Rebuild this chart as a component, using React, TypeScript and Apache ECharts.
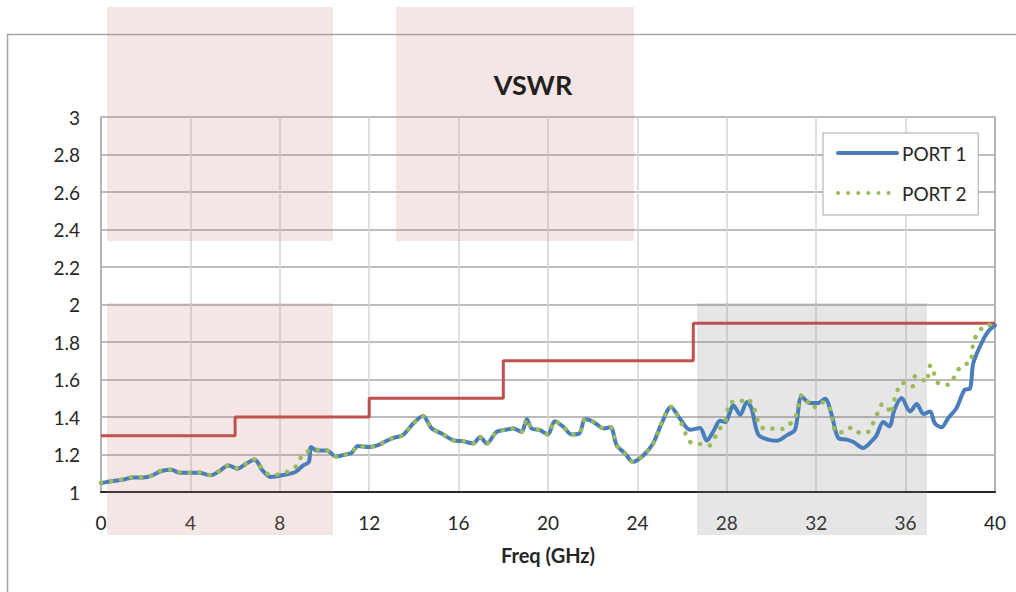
import React, { useEffect, useRef } from "react";
import * as echarts from "echarts";

// Frequency (GHz) / VSWR samples
const port1Freq = [0, 0.55, 1.0, 1.45, 1.9, 2.3, 2.7, 3.16, 3.5, 4.0, 4.4, 4.9, 5.3, 5.7, 6.1, 6.5, 6.86, 7.0, 7.2, 7.6, 8.1, 8.7, 9.05, 9.3, 9.4, 9.65, 10.1, 10.5, 10.8, 11.2, 11.5, 12.0,
  12.4, 12.7, 13.08, 13.5, 13.97, 14.4, 14.8, 15.24, 15.76, 16.2, 16.66, 16.96, 17.26, 17.7, 18.15, 18.45, 18.82, 19.05, 19.27, 19.64, 20.0, 20.3, 20.68, 21.05, 21.4, 21.66, 22.03, 22.5, 22.8, 23.07, 23.45, 23.8, 24.27, 24.7, 25.08, 25.5, 25.9, 26.35, 26.8,
  27.1, 27.4, 27.7, 27.92, 28.3, 28.6, 28.9, 29.1, 29.41, 29.86, 30.23, 30.68, 31.05, 31.35, 31.72, 32.1, 32.4, 32.69, 32.99, 33.37, 33.66, 34.1, 34.5, 34.7, 35.0, 35.27, 35.5, 35.82, 36.2, 36.5, 36.8, 37.1, 37.3, 37.6, 37.91, 38.28, 38.65, 38.88, 39.03, 39.4, 39.7, 40];
const port1Vswr = [1.048, 1.059, 1.066, 1.078, 1.078, 1.089, 1.112, 1.119, 1.103, 1.103, 1.103, 1.089, 1.112, 1.142, 1.124, 1.151, 1.172, 1.16, 1.119, 1.08, 1.089, 1.107, 1.142, 1.16, 1.24, 1.222, 1.222, 1.19, 1.196, 1.208, 1.245, 1.24,
  1.25, 1.268, 1.289, 1.303, 1.365, 1.406, 1.339, 1.312, 1.276, 1.271, 1.259, 1.294, 1.259, 1.321, 1.333, 1.339, 1.321, 1.388, 1.339, 1.33, 1.307, 1.378, 1.348, 1.307, 1.312, 1.388, 1.374, 1.339, 1.345, 1.25, 1.205, 1.161, 1.196, 1.259, 1.365, 1.454, 1.392, 1.332, 1.341,
  1.274, 1.324, 1.38, 1.373, 1.462, 1.412, 1.48, 1.448, 1.306, 1.279, 1.274, 1.302, 1.332, 1.51, 1.475, 1.475, 1.498, 1.412, 1.288, 1.279, 1.267, 1.235, 1.274, 1.302, 1.373, 1.35, 1.439, 1.501, 1.43, 1.469, 1.416, 1.43, 1.368, 1.345, 1.395, 1.448, 1.546, 1.551, 1.688, 1.795, 1.857, 1.889];

const port2Freq = [0, 0.55, 1.0, 1.45, 1.9, 2.3, 2.7, 3.16, 3.5, 4.0, 4.4, 4.9, 5.3, 5.7, 6.1, 6.5, 6.86, 7.0, 7.2, 7.6, 8.0, 8.4, 8.8, 9.0, 9.35, 9.65, 10.1, 10.5, 10.8, 11.2, 11.5, 12.0,
  12.4, 12.7, 13.08, 13.5, 13.97, 14.4, 14.8, 15.24, 15.76, 16.2, 16.66, 16.96, 17.26, 17.7, 18.15, 18.45, 18.82, 19.05, 19.27, 19.64, 20.0, 20.3, 20.68, 21.05, 21.4, 21.66, 22.03, 22.5, 22.8, 23.07, 23.45, 23.8, 24.27, 24.7, 25.08, 25.5, 25.97, 26.35, 26.8,
  27.2, 27.47, 27.7, 27.92, 28.17, 28.55, 28.9, 29.15, 29.33, 29.45, 29.86, 30.15, 30.5, 30.83, 31.1, 31.35, 31.57, 31.84, 32.2, 32.55, 32.77, 32.9, 33.3, 33.6, 33.96, 34.33, 34.55, 34.73, 34.93, 35.15, 35.33, 35.45, 35.6, 35.75, 36.0, 36.32, 36.42, 36.65, 36.91, 37.12, 37.5, 37.96, 38.2, 38.43, 38.7, 38.9, 39.05, 39.3, 39.55, 40];
const port2Vswr = [1.05, 1.06, 1.068, 1.08, 1.078, 1.09, 1.114, 1.12, 1.106, 1.103, 1.105, 1.09, 1.112, 1.142, 1.126, 1.152, 1.175, 1.165, 1.124, 1.09, 1.095, 1.112, 1.146, 1.196, 1.222, 1.226, 1.222, 1.19, 1.196, 1.21, 1.245, 1.24,
  1.25, 1.268, 1.289, 1.303, 1.365, 1.406, 1.339, 1.312, 1.276, 1.271, 1.259, 1.294, 1.259, 1.321, 1.333, 1.339, 1.321, 1.388, 1.339, 1.33, 1.307, 1.378, 1.348, 1.307, 1.312, 1.388, 1.374, 1.339, 1.345, 1.25, 1.205, 1.161, 1.196, 1.259, 1.365, 1.454, 1.365, 1.268, 1.256,
  1.247, 1.292, 1.341, 1.373, 1.48, 1.48, 1.5, 1.462, 1.412, 1.356, 1.332, 1.341, 1.336, 1.363, 1.409, 1.516, 1.492, 1.448, 1.48, 1.462, 1.359, 1.315, 1.324, 1.345, 1.315, 1.32, 1.368, 1.416, 1.466, 1.462, 1.416, 1.475, 1.523, 1.578, 1.581, 1.564, 1.617, 1.612, 1.585, 1.676, 1.576, 1.572, 1.617, 1.665, 1.683, 1.688, 1.807, 1.853, 1.892, 1.889];

// Specification limit (step)
const limitFreq = [0, 6, 6, 12, 12, 18, 18, 26.5, 26.5, 40];
const limitVswr = [1.3, 1.3, 1.4, 1.4, 1.5, 1.5, 1.7, 1.7, 1.9, 1.9];

const seriesNames = ["PORT 1", "PORT 2"];
const chartTitle = "VSWR";
const xAxisName = "Freq (GHz)";

const zip = (xs: number[], ys: number[]) => xs.map((x, i) => [x, ys[i]]);

const FONT = "Lato, 'Open Sans', sans-serif";
const TXT = "#262626";

export default function App() {
  const ref = useRef<HTMLDivElement>(null);
  useEffect(() => {
    if (!ref.current) return;
    const chart = echarts.init(ref.current, null, { renderer: "svg" });
    const pink = "rgba(205,130,130,0.2)";
    const gray = "rgba(128,128,128,0.2)";
    chart.setOption({
      animation: false,
      backgroundColor: "#ffffff",
      textStyle: { fontFamily: FONT },
      grid: { left: 101, top: 117, width: 894, height: 375, containLabel: false },
      legend: {
        data: seriesNames,
        orient: "vertical",
        left: 823,
        top: 133,
        padding: [10, 11, 12, 13],
        itemGap: 20,
        itemWidth: 59,
        itemHeight: 14,
        backgroundColor: "#ffffff",
        borderColor: "#a6a6a6",
        borderWidth: 1,
        borderRadius: 0,
        itemStyle: { opacity: 0 },
        lineStyle: { width: 4 },
        textStyle: { fontFamily: FONT, fontSize: 19, color: TXT, lineHeight: 20 },
      },
      xAxis: {
        type: "value",
        min: 0,
        max: 40,
        interval: 4,
        name: xAxisName,
        nameLocation: "middle",
        nameGap: 53,
        nameTextStyle: { fontFamily: FONT, fontSize: 20, fontWeight: "bold", color: TXT },
        axisLine: { show: true, onZero: false, lineStyle: { color: "#262626", width: 2 } },
        axisTick: { show: false },
        axisLabel: { fontFamily: FONT, fontSize: 19, color: TXT, margin: 21 },
        splitLine: { show: true, lineStyle: { color: "#d4d4d4", width: 1.5 } },
      },
      yAxis: [
        {
          type: "value",
          min: 1,
          max: 3,
          interval: 0.2,
          axisLine: { show: true, lineStyle: { color: "#a6a6a6", width: 1.5 } },
          axisTick: { show: false },
          axisLabel: {
            fontFamily: FONT,
            fontSize: 19,
            color: TXT,
            margin: 21,
            formatter: (v: number) => String(Math.round(v * 10) / 10),
          },
          splitLine: { show: true, lineStyle: { color: "#a6a6a6", width: 1.5 } },
        },
        {
          type: "value",
          position: "right",
          min: 1,
          max: 3,
          interval: 0.2,
          axisLine: { show: true, lineStyle: { color: "#a6a6a6", width: 1.5 } },
          axisTick: { show: false },
          axisLabel: { show: false },
          splitLine: { show: false },
        },
      ],
      graphic: [
        { type: "rect", z: 0, silent: true, shape: { x: 7.5, y: 34.5, width: 1200, height: 700 }, style: { fill: "none", stroke: "#a6a6a6", lineWidth: 1.5 } },
        { type: "rect", z: 1, silent: true, shape: { x: 107, y: 7, width: 226, height: 234 }, style: { fill: pink } },
        { type: "rect", z: 1, silent: true, shape: { x: 396, y: 7, width: 238, height: 234 }, style: { fill: pink } },
        { type: "rect", z: 1, silent: true, shape: { x: 107, y: 303, width: 226, height: 232 }, style: { fill: pink } },
        { type: "rect", z: 1, silent: true, shape: { x: 697, y: 303, width: 230, height: 232 }, style: { fill: gray } },
        {
          type: "text",
          z: 3,
          x: 533,
          y: 84,
          style: { text: chartTitle, textAlign: "center", textVerticalAlign: "middle", fontFamily: FONT, fontSize: 27, fontWeight: "bold", fill: "#231f20" },
        },
      ],
      series: [
        {
          name: "Limit",
          type: "line",
          data: zip(limitFreq, limitVswr),
          showSymbol: false,
          symbol: "none",
          lineStyle: { color: "#c0504d", width: 3 },
          z: 2,
        },
        {
          name: seriesNames[0],
          type: "line",
          data: zip(port1Freq, port1Vswr),
          smooth: 0.3,
          showSymbol: false,
          symbol: "none",
          color: "#4a7ebb",
          lineStyle: { color: "#4a7ebb", width: 4, join: "round", cap: "round" },
          z: 3,
        },
        {
          name: seriesNames[1],
          type: "line",
          data: zip(port2Freq, port2Vswr),
          smooth: 0.3,
          showSymbol: false,
          symbol: "none",
          color: "#9bbb59",
          lineStyle: { color: "#9bbb59", width: 4.5, type: [0.1, 10], cap: "round" },
          z: 4,
        },
      ],
    });
    return () => chart.dispose();
  }, []);
  return <div ref={ref} style={{ position: "fixed", left: 0, top: 0, width: 1016, height: 592 }} />;
}
